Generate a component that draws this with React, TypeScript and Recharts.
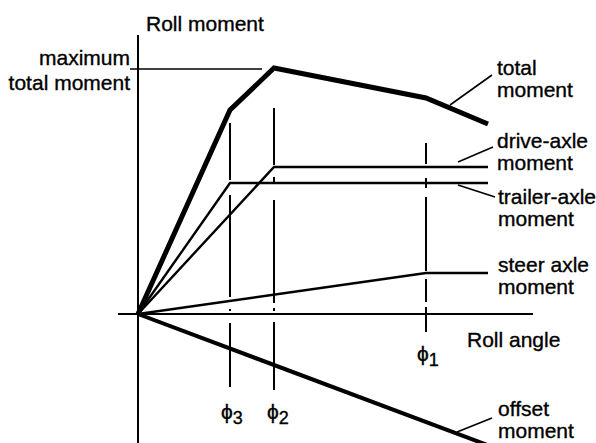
import React from "react";
import { LineChart, Line, XAxis, YAxis, ReferenceLine } from "recharts";

// Roll angle positions (arbitrary units) of the characteristic angles
const phiNames = ["ϕ3", "ϕ2", "ϕ1"];
const phiAngles = [2.3, 3.4, 7.2];

// Series (roll angle -> roll moment, arbitrary units)
const totalX = [0, 2.3, 3.4, 7.2, 8.75];
const totalY = [0, 5.1, 6.15, 5.4, 4.75];
const driveX = [0, 3.4, 8.75];
const driveY = [0, 3.675, 3.675];
const trailerX = [0, 2.3, 8.75];
const trailerY = [0, 3.275, 3.275];
const steerX = [0, 7.2, 8.75];
const steerY = [0, 1.025, 1.025];
const offsetX = [0, 8.8];
const offsetY = [0, -3.3];
const maxTotal = 6.125;

const toPts = (xs: number[], ys: number[]) => xs.map((x, i) => ({ x, y: ys[i] }));

const total = toPts(totalX, totalY);
const drive = toPts(driveX, driveY);
const trailer = toPts(trailerX, trailerY);
const steer = toPts(steerX, steerY);
const offset = toPts(offsetX, offsetY);

const FONT = "'Liberation Sans', Arial, Helvetica, sans-serif";

export default function App() {
  const W = 596;
  const H = 443;
  const black = "#000";
  return (
    <div style={{ position: "relative", width: W, height: H, fontFamily: FONT }}>
      <style>{"body{margin:0}"}</style>
      <LineChart
        width={W}
        height={H}
        margin={{ top: 34, right: 58, bottom: 0, left: 118 }}
        data={total}
      >
        <XAxis type="number" dataKey="x" domain={[-0.5, 10]} allowDataOverflow hide />
        <YAxis type="number" dataKey="y" domain={[-3.225, 7]} allowDataOverflow hide />

        {/* axes */}
        <ReferenceLine
          segment={[{ x: 0, y: 6.975 }, { x: 0, y: -3.3 }]}
          stroke={black}
          strokeWidth={2}
          ifOverflow="visible"
        />
        <ReferenceLine
          segment={[{ x: -0.5, y: 0 }, { x: 9.875, y: 0 }]}
          stroke={black}
          strokeWidth={2}
          ifOverflow="visible"
        />
        {/* maximum total moment marker */}
        <ReferenceLine
          segment={[{ x: -0.2, y: maxTotal }, { x: 3.1, y: maxTotal }]}
          stroke={black}
          strokeWidth={1.6}
          ifOverflow="visible"
        />
        {/* phi verticals */}
        <ReferenceLine
          segment={[{ x: phiAngles[0], y: 4.775 }, { x: phiAngles[0], y: -1.825 }]}
          stroke={black}
          strokeWidth={2}
          strokeDasharray="57 15 102 12 2 12 64"
          ifOverflow="visible"
        />
        <ReferenceLine
          segment={[{ x: phiAngles[1], y: 5.15 }, { x: phiAngles[1], y: -1.925 }]}
          stroke={black}
          strokeWidth={2}
          strokeDasharray="57 12 6 17 103 5 3 11 68"
          ifOverflow="visible"
        />
        <ReferenceLine
          segment={[{ x: phiAngles[2], y: 4.275 }, { x: phiAngles[2], y: -0.45 }]}
          stroke={black}
          strokeWidth={2}
          strokeDasharray="21 14 10 9 74 8 23 5 25"
          ifOverflow="visible"
        />
        {/* leader lines */}
        <ReferenceLine segment={[{ x: 7.8, y: 5.225 }, { x: 8.85, y: 5.975 }]} stroke={black} strokeWidth={1.6} ifOverflow="visible" />
        <ReferenceLine segment={[{ x: 8.0, y: 3.8 }, { x: 8.875, y: 4.175 }]} stroke={black} strokeWidth={1.6} ifOverflow="visible" />
        <ReferenceLine segment={[{ x: 8.0, y: 3.225 }, { x: 8.925, y: 2.925 }]} stroke={black} strokeWidth={1.6} ifOverflow="visible" />
        <ReferenceLine segment={[{ x: 7.975, y: -2.95 }, { x: 8.85, y: -2.6 }]} stroke={black} strokeWidth={1.6} ifOverflow="visible" />

        <Line data={steer} dataKey="y" type="linear" stroke={black} strokeWidth={2.6} dot={false} activeDot={false} isAnimationActive={false} />
        <Line data={trailer} dataKey="y" type="linear" stroke={black} strokeWidth={2.4} dot={false} activeDot={false} isAnimationActive={false} />
        <Line data={drive} dataKey="y" type="linear" stroke={black} strokeWidth={2.4} dot={false} activeDot={false} isAnimationActive={false} />
        <Line data={offset} dataKey="y" type="linear" stroke={black} strokeWidth={4} dot={false} activeDot={false} isAnimationActive={false} />
        <Line data={total} dataKey="y" type="linear" stroke={black} strokeWidth={5} dot={false} activeDot={false} isAnimationActive={false} />
      </LineChart>

      <svg
        width={W}
        height={H}
        style={{ position: "absolute", left: 0, top: 0, pointerEvents: "none" }}
        fontFamily={FONT}
        fontSize={21}
        fill={black}
        stroke={black}
        strokeWidth={0.35}
      >
        <text x={146} y={31}>Roll moment</text>
        <text x={130} y={65} textAnchor="end">maximum</text>
        <text x={130} y={90} textAnchor="end">total moment</text>
        <text x={467} y={347}>Roll angle</text>

        <text x={497} y={75}>total</text>
        <text x={497} y={97}>moment</text>
        <text x={497} y={148}>drive-axle</text>
        <text x={497} y={170}>moment</text>
        <text x={498} y={204}>trailer-axle</text>
        <text x={498} y={226}>moment</text>
        <text x={498} y={272}>steer axle</text>
        <text x={498} y={294}>moment</text>
        <text x={498} y={416}>offset</text>
        <text x={498} y={438}>moment</text>

        <text x={417} y={361}>
          {phiNames[2].charAt(0)}
          <tspan dy={5} fontSize={18}>{phiNames[2].slice(1)}</tspan>
        </text>
        <text x={221} y={419}>
          {phiNames[0].charAt(0)}
          <tspan dy={5} fontSize={18}>{phiNames[0].slice(1)}</tspan>
        </text>
        <text x={267} y={419}>
          {phiNames[1].charAt(0)}
          <tspan dy={5} fontSize={18}>{phiNames[1].slice(1)}</tspan>
        </text>
      </svg>
    </div>
  );
}
